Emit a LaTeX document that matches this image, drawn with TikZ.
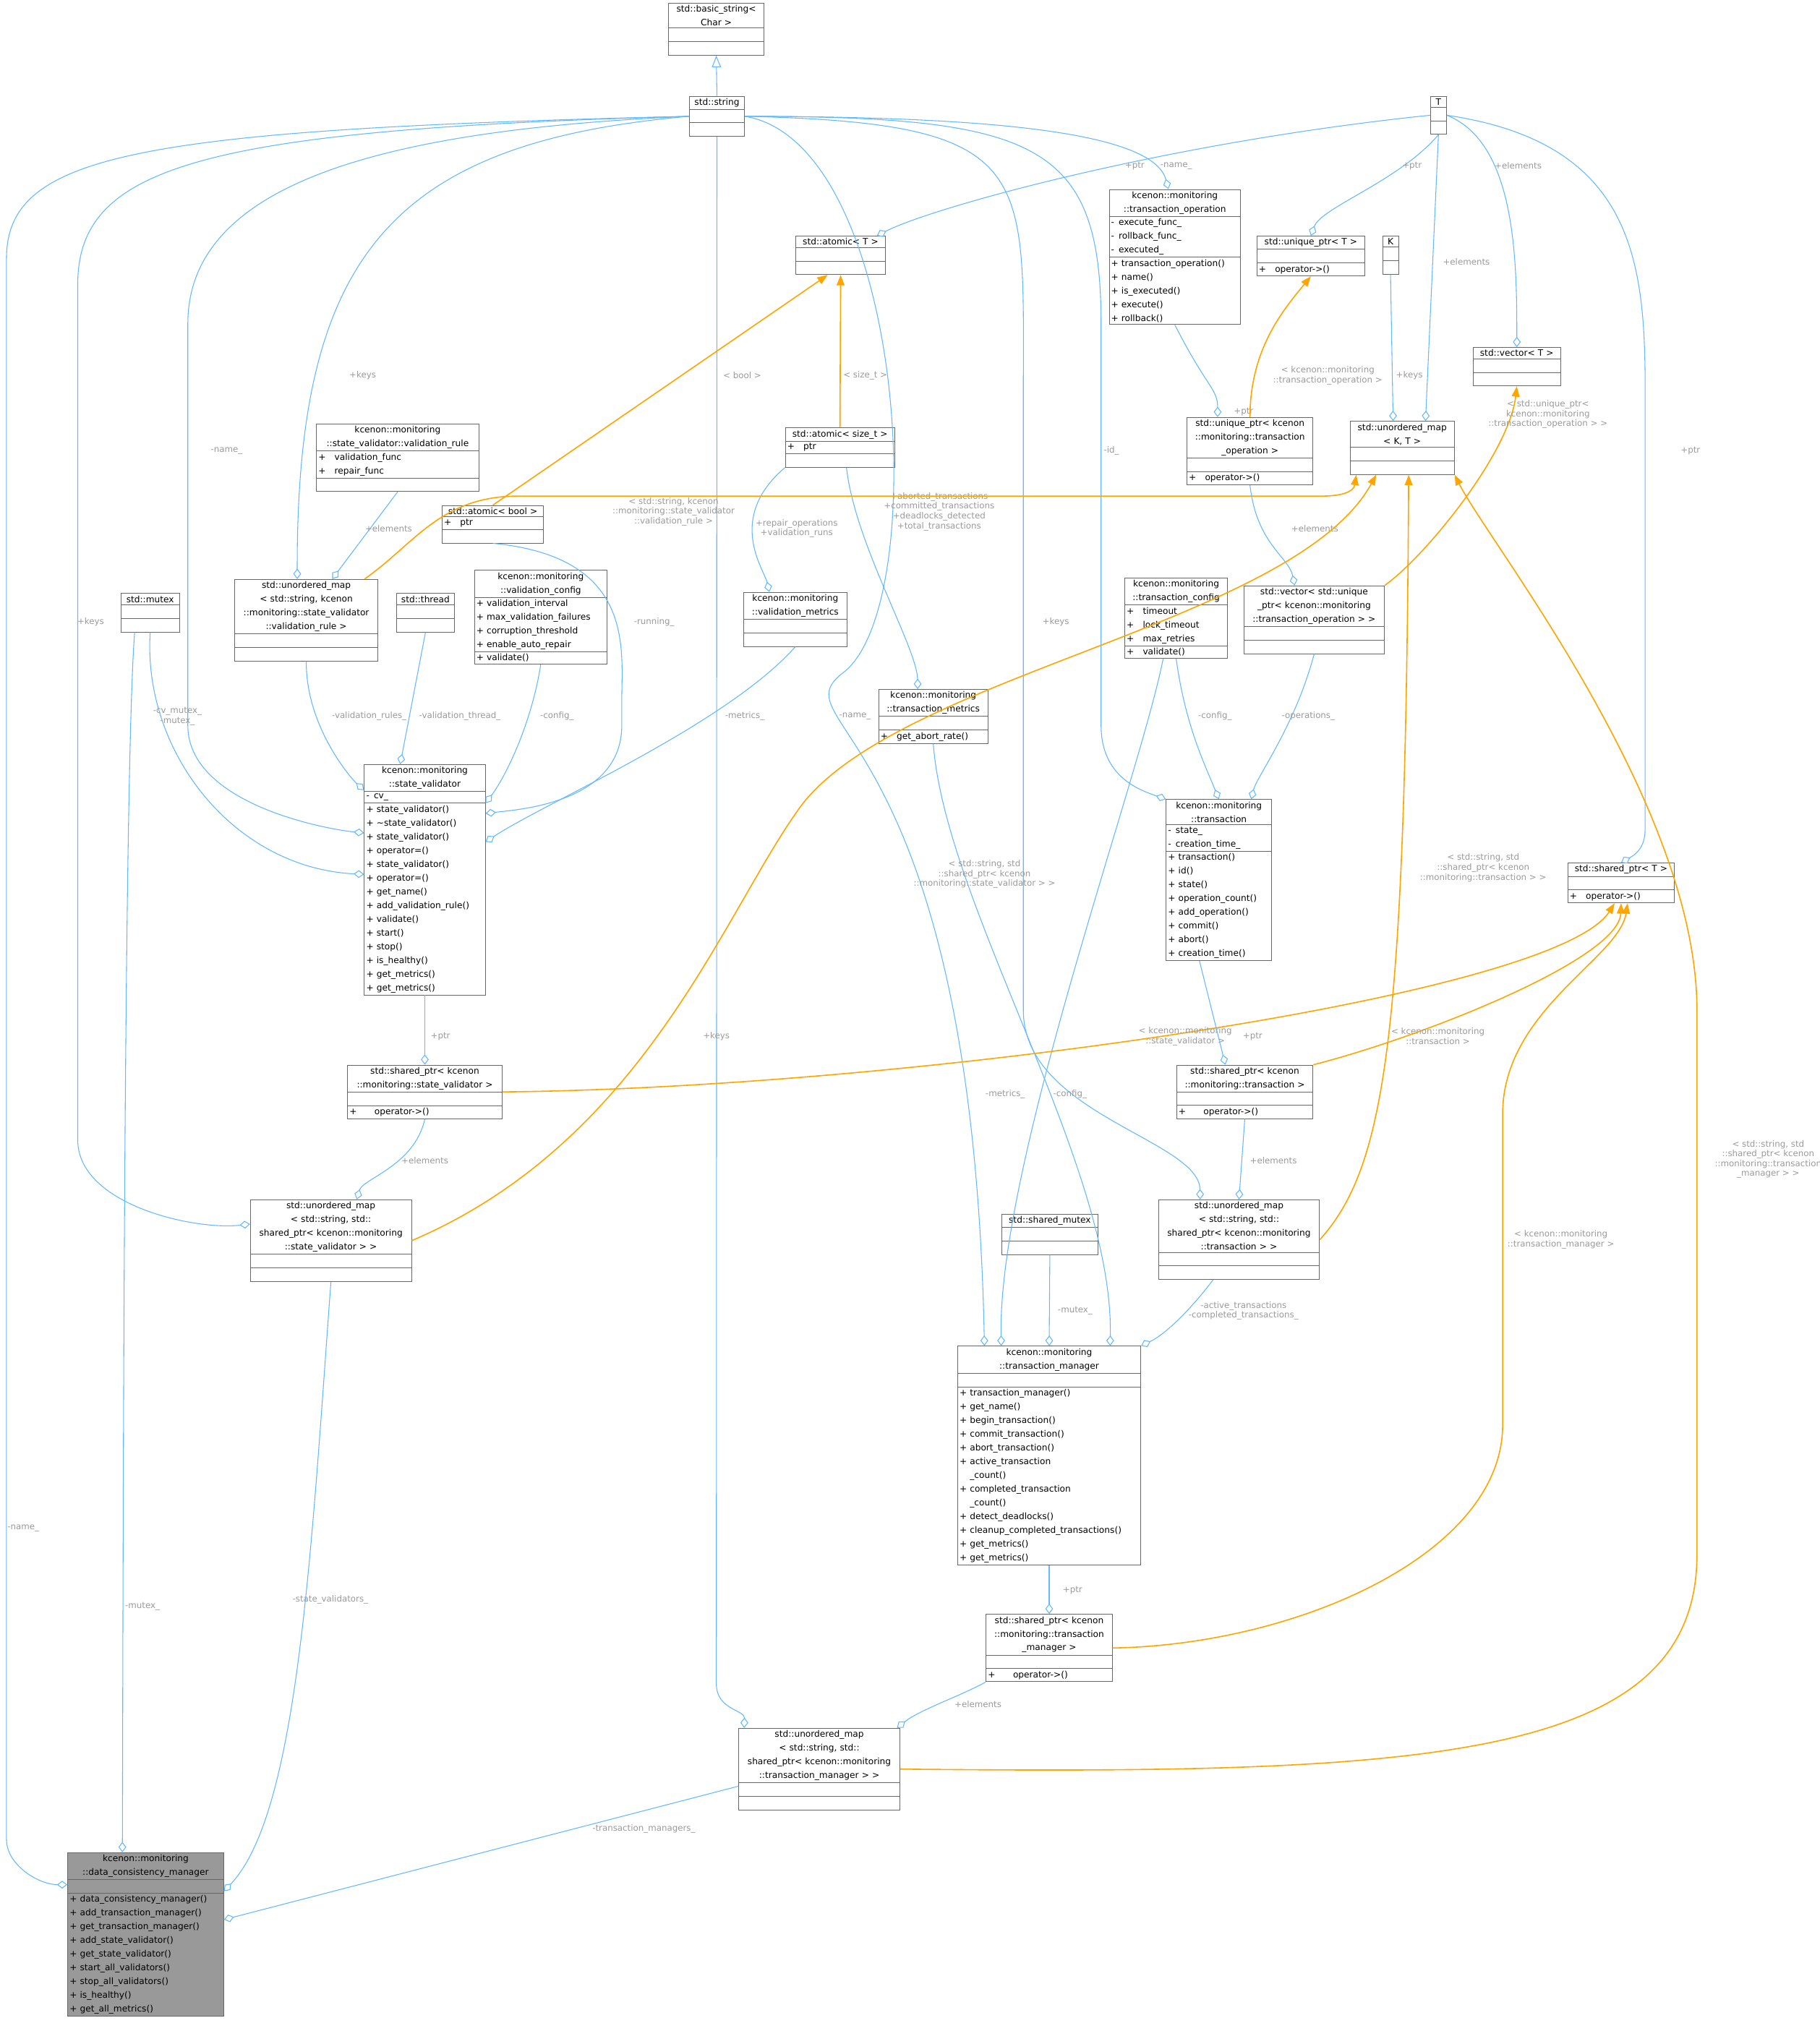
\documentclass[tikz,border=0pt]{standalone}
\usepackage{fontspec}
\setmainfont{DejaVu Sans}
\usetikzlibrary{shapes.multipart,arrows.meta}
\definecolor{edgeblue}{HTML}{63B8FF}
\definecolor{tmplorange}{HTML}{FFA500}
\definecolor{lblgrey}{HTML}{9A9A9A}
\definecolor{boxline}{HTML}{666666}
\definecolor{curfill}{HTML}{999999}
\catcode`\_=12
\tikzset{
  cls/.style={draw=boxline, fill=white, rectangle split, rectangle split parts=3,
    anchor=north west, align=left, inner sep=1.5pt, line width=0.5pt,
    font=\fontsize{6.8}{10.6}\selectfont},
  has/.style={draw=edgeblue, line width=0.6pt, -{Diamond[open,length=8pt,width=6pt]}},
  tmpl/.style={draw=tmplorange, line width=0.9pt, -{Triangle[length=8pt,width=6pt]}},
  isa/.style={draw=edgeblue, line width=0.6pt, -{Triangle[open,length=9pt,width=7pt]}},
  lbl/.style={text=lblgrey, align=center, inner sep=1pt, font=\fontsize{6.6}{7.6}\selectfont}
}
\newcommand\E{\rule[-2pt]{0pt}{7pt}}
\newcommand\umlcls[6][60]{\node[cls,text width=#1pt-3.6pt] (#2) at (#3) {#4\nodepart{two}#5\nodepart{three}#6};}
\begin{document}
\begin{tikzpicture}[x=1pt,y=-1pt]
\useasboundingbox[fill=white] (0,0) rectangle (1405,1568);

% classes, top to bottom
\umlcls[74]{bstr}{516,2}{{\centering std::basic_string<\\Char >\par}}{\E}{\E}
\umlcls[43]{str}{532,74}{{\centering std::string\par}}{\E}{\E}
\umlcls[13]{T}{1104,74}{{\centering T\par}}{\E}{\E}
\umlcls[70]{atomT}{614,182}{{\centering std::atomic< T >\par}}{\E}{\E}
\umlcls[102]{top}{856,146}{{\centering kcenon::monitoring\\::transaction_operation\par}}{-\enspace execute_func_\\-\enspace rollback_func_\\-\enspace executed_}{+ transaction_operation()\\+ name()\\+ is_executed()\\+ execute()\\+ rollback()}
\umlcls[84]{uqT}{970,182}{{\centering std::unique_ptr< T >\par}}{\E}{+\quad operator->()}
\umlcls[13]{K}{1067,182}{{\centering K\par}}{\E}{\E}
\umlcls[68]{vecT}{1137,268}{{\centering std::vector< T >\par}}{\E}{\E}
\umlcls[81]{umKT}{1042,325}{{\centering std::unordered_map\\< K, T >\par}}{\E}{\E}
\umlcls[98]{uptop}{916,322}{{\centering std::unique_ptr< kcenon\\::monitoring::transaction\\_operation >\par}}{\E}{+\quad operator->()}
\umlcls[85]{atomsize}{606,330}{{\centering std::atomic< size_t >\par}}{+\quad ptr}{\E}
\umlcls[126]{vr}{244,327}{{\centering kcenon::monitoring\\::state_validator::validation_rule\par}}{+\quad validation_func\\+\quad repair_func}{\E}
\umlcls[79]{atombool}{341,390}{{\centering std::atomic< bool >\par}}{+\quad ptr}{\E}
\umlcls[46]{mutex}{93,458}{{\centering std::mutex\par}}{\E}{\E}
\umlcls[111]{umvr}{181,447}{{\centering std::unordered_map\\< std::string, kcenon\\::monitoring::state_validator\\::validation_rule >\par}}{\E}{\E}
\umlcls[45]{thread}{306,458}{{\centering std::thread\par}}{\E}{\E}
\umlcls[103]{vconf}{366,440}{{\centering kcenon::monitoring\\::validation_config\par}}{+ validation_interval\\+ max_validation_failures\\+ corruption_threshold\\+ enable_auto_repair}{+ validate()}
\umlcls[80]{vm}{574,457}{{\centering kcenon::monitoring\\::validation_metrics\par}}{\E}{\E}
\umlcls[80]{tconf}{868,446}{{\centering kcenon::monitoring\\::transaction_config\par}}{+\quad timeout\\+\quad lock_timeout\\+\quad max_retries}{+\quad validate()}
\umlcls[109]{vecup}{960,452}{{\centering std::vector< std::unique\\_ptr< kcenon::monitoring\\::transaction_operation > >\par}}{\E}{\E}
\umlcls[85]{tmet}{678,532}{{\centering kcenon::monitoring\\::transaction_metrics\par}}{\E}{+\quad get_abort_rate()}
\umlcls[94]{sv}{281,590}{{\centering kcenon::monitoring\\::state_validator\par}}{-\enspace cv_}{+ state_validator()\\+ \textasciitilde state_validator()\\+ state_validator()\\+ operator=()\\+ state_validator()\\+ operator=()\\+ get_name()\\+ add_validation_rule()\\+ validate()\\+ start()\\+ stop()\\+ is_healthy()\\+ get_metrics()\\+ get_metrics()}
\umlcls[82]{tr}{900,617}{{\centering kcenon::monitoring\\::transaction\par}}{-\enspace state_\\-\enspace creation_time_}{+ transaction()\\+ id()\\+ state()\\+ operation_count()\\+ add_operation()\\+ commit()\\+ abort()\\+ creation_time()}
\umlcls[83]{spT}{1210,666}{{\centering std::shared_ptr< T >\par}}{\E}{+\quad operator->()}
\umlcls[120]{spsv}{268,822}{{\centering std::shared_ptr< kcenon\\::monitoring::state_validator >\par}}{\E}{+\qquad operator->()}
\umlcls[106]{sptr}{908,822}{{\centering std::shared_ptr< kcenon\\::monitoring::transaction >\par}}{\E}{+\qquad operator->()}
\umlcls[125]{umsv}{193,926}{{\centering std::unordered_map\\< std::string, std::\\shared_ptr< kcenon::monitoring\\::state_validator > >\par}}{\E}{\E}
\umlcls[75]{smutex}{773,937}{{\centering std::shared_mutex\par}}{\E}{\E}
\umlcls[125]{umtr}{894,926}{{\centering std::unordered_map\\< std::string, std::\\shared_ptr< kcenon::monitoring\\::transaction > >\par}}{\E}{\E}
\umlcls[142]{tm}{739,1039}{{\centering kcenon::monitoring\\::transaction_manager\par}}{\E}{+ transaction_manager()\\+ get_name()\\+ begin_transaction()\\+ commit_transaction()\\+ abort_transaction()\\+ active_transaction\\\phantom{+ }_count()\\+ completed_transaction\\\phantom{+ }_count()\\+ detect_deadlocks()\\+ cleanup_completed_transactions()\\+ get_metrics()\\+ get_metrics()}
\umlcls[98]{sptm}{761,1246}{{\centering std::shared_ptr< kcenon\\::monitoring::transaction\\_manager >\par}}{\E}{+\qquad operator->()}
\umlcls[125]{umtm}{570,1334}{{\centering std::unordered_map\\< std::string, std::\\shared_ptr< kcenon::monitoring\\::transaction_manager > >\par}}{\E}{\E}
\node[cls,fill=curfill,text width=121pt-3.6pt] (dcm) at (52,1430) {{\centering kcenon::monitoring\\::data_consistency_manager\par}\nodepart{two}\E\nodepart{three}+ data_consistency_manager()\\+ add_transaction_manager()\\+ get_transaction_manager()\\+ add_state_validator()\\+ get_state_validator()\\+ start_all_validators()\\+ stop_all_validators()\\+ is_healthy()\\+ get_all_metrics()};

% std::string members
\draw[isa] (str.north) -- (bstr.south);
\draw[has] (str.west) .. controls (100,100) and (5,120) .. (5,200) -- (5,1420) .. controls (5,1440) and (30,1455) .. ([yshift=-25pt]dcm.north west) node[lbl] at (18,1180) {-name_};
\draw[has] (str.west) .. controls (150,100) and (60,130) .. (60,220) -- (60,880) .. controls (60,930) and (150,950) .. ([yshift=-19pt]umsv.north west) node[lbl] at (70,480) {+keys};
\draw[has] (str.west) .. controls (300,100) and (145,140) .. (145,250) -- (145,560) .. controls (145,620) and (250,640) .. ([yshift=-53pt]sv.north west) node[lbl] at (175,348) {-name_};
\draw[has] (str.west) .. controls (300,110) and (229,200) .. ([xshift=-7pt]umvr.north) node[lbl] at (280,290) {+keys};
\draw[has] (str.east) .. controls (750,90) and (890,100) .. ([xshift=-5pt]top.north) node[lbl] at (908,128) {-name_};
\draw[has] (str.east) .. controls (700,110) and (720,470) .. (650,520) .. controls (600,560) and (750,560) .. ([xshift=-50pt]tm.north) node[lbl] at (660,553) {-name_};
\draw[has] (str.east) .. controls (800,90) and (850,110) .. (850,250) -- (850,560) .. controls (850,600) and (880,610) .. (tr.north west) node[lbl] at (858,348) {-id_};
\draw[has] (str.east) .. controls (800,95) and (790,130) .. (790,300) -- (790,780) .. controls (790,860) and (926,880) .. ([xshift=-30pt]umtr.north) node[lbl] at (815,480) {+keys};
\draw[has] (str.south) -- (553,1300) .. controls (553,1320) and (575,1320) .. ([xshift=-58pt]umtm.north) node[lbl] at (553,800) {+keys};

% template parameters
\draw[has] (T.west) .. controls (900,110) and (720,160) .. ([xshift=28pt]atomT.north) node[lbl] at (876,128) {+ptr};
\draw[has] (T.south) .. controls (1080,140) and (1020,160) .. (uqT.north) node[lbl] at (1090,128) {+ptr};
\draw[has] (T.south) -- ([xshift=18pt]umKT.north) node[lbl] at (1132,202) {+elements};
\draw[has] (T.east) .. controls (1170,110) and (1171,200) .. (vecT.north) node[lbl] at (1172,128) {+elements};
\draw[has] (T.east) .. controls (1260,110) and (1270,200) .. (1270,300) -- (1270,640) .. controls (1270,655) and (1262,660) .. (spT.north) node[lbl] at (1305,348) {+ptr};
\draw[has] (K.south) -- ([xshift=-7pt]umKT.north) node[lbl] at (1088,290) {+keys};

% atomics
\draw[tmpl] (atombool.north) -- ([xshift=-10pt]atomT.south) node[lbl] at (573,290) {< bool >};
\draw[tmpl] (atomsize.north) -- (atomT.south) node[lbl] at (668,290) {< size_t >};
\draw[has] (atombool.south) .. controls (490,430) and (480,500) .. (480,540) -- (480,560) .. controls (480,620) and (400,625) .. ([yshift=-38pt]sv.north east) node[lbl] at (505,480) {-running_};
\draw[has] (atomsize.south west) .. controls (560,400) and (590,440) .. ([xshift=-20pt]vm.north) node[lbl] at (615,408) {+repair_operations\\+validation_runs};
\draw[has] ([xshift=5pt]atomsize.south) .. controls (660,420) and (708,500) .. ([xshift=-12pt]tmet.north) node[lbl] at (725,395) {+aborted_transactions\\+committed_transactions\\+deadlocks_detected\\+total_transactions};

% state validator members
\draw[has] (vr.south) -- ([xshift=20pt]umvr.north) node[lbl] at (300,408) {+elements};
\draw[tmpl] ([xshift=45pt]umvr.north) .. controls (320,420) and (340,383) .. (400,383) -- (1020,383) .. controls (1035,383) and (1045,380) .. ([xshift=5pt]umKT.south west) node[lbl] at (520,395) {< std::string, kcenon\\::monitoring::state_validator\\::validation_rule >};
\draw[has] (umvr.south) .. controls (236,560) and (270,600) .. ([yshift=-20pt]sv.north west) node[lbl] at (285,553) {-validation_rules_};
\draw[has] (mutex.south) .. controls (110,580) and (180,670) .. ([yshift=-85pt]sv.north west) node[lbl] at (137,553) {-cv_mutex_\\-mutex_};
\draw[has] ([xshift=-12pt]mutex.south) .. controls (95,600) and (95,1300) .. ([xshift=-18pt]dcm.north) node[lbl] at (110,1240) {-mutex_};
\draw[has] (thread.south) -- ([xshift=-19pt]sv.north) node[lbl] at (355,553) {-validation_thread_};
\draw[has] (vconf.south) .. controls (410,560) and (390,600) .. ([yshift=-30pt]sv.north east) node[lbl] at (430,553) {-config_};
\draw[has] (vm.south) .. controls (560,560) and (420,620) .. ([yshift=-60pt]sv.north east) node[lbl] at (575,553) {-metrics_};

% transaction members
\draw[has] (top.south) .. controls (932,300) and (940,300) .. ([xshift=-25pt]uptop.north) node[lbl] at (960,318) {+ptr};
\draw[tmpl] (uptop.north) .. controls (965,270) and (990,240) .. (uqT.south) node[lbl] at (1025,290) {< kcenon::monitoring\\::transaction_operation >};
\draw[has] (uptop.south) .. controls (970,420) and (995,430) .. ([xshift=-15pt]vecup.north) node[lbl] at (1015,408) {+elements};
\draw[tmpl] (vecup.north east) .. controls (1100,430) and (1165,350) .. (vecT.south) node[lbl] at (1195,320) {< std::unique_ptr<\\kcenon::monitoring\\::transaction_operation > >};
\draw[has] (vecup.south) .. controls (1000,560) and (970,600) .. ([xshift=25pt]tr.north) node[lbl] at (1010,553) {-operations_};
\draw[has] (tconf.south) .. controls (915,560) and (930,590) .. (tr.north) node[lbl] at (938,553) {-config_};
\draw[has] ([xshift=-10pt]tconf.south) .. controls (880,600) and (770,900) .. ([xshift=-37pt]tm.north) node[lbl] at (826,845) {-config_};
\draw[has] (tmet.south) .. controls (730,700) and (860,900) .. ([xshift=47pt]tm.north) node[lbl] at (776,845) {-metrics_};

% shared pointers and maps
\draw[has] (sv.south) -- (spsv.north) node[lbl] at (340,800) {+ptr};
\draw[tmpl] (spsv.east) .. controls (700,840) and (1200,770) .. ([xshift=-5pt]spT.south) node[lbl] at (915,800) {< kcenon::monitoring\\::state_validator >};
\draw[has] (spsv.south) .. controls (320,900) and (280,910) .. ([xshift=20pt]umsv.north) node[lbl] at (328,896) {+elements};
\draw[tmpl] (umsv.east) .. controls (500,880) and (560,700) .. (620,620) .. controls (700,520) and (1000,480) .. ([xshift=-20pt]umKT.south) node[lbl] at (760,675) {< std::string, std\\::shared_ptr< kcenon\\::monitoring::state_validator > >};
\draw[has] (umsv.south) .. controls (240,1200) and (230,1400) .. ([yshift=-30pt]dcm.north east) node[lbl] at (255,1235) {-state_validators_};
\draw[has] ([xshift=-15pt]tr.south) -- ([xshift=-15pt]sptr.north) node[lbl] at (967,800) {+ptr};
\draw[tmpl] (sptr.north east) .. controls (1100,800) and (1250,740) .. (spT.south) node[lbl] at (1110,800) {< kcenon::monitoring\\::transaction >};
\draw[has] (sptr.south) -- (umtr.north) node[lbl] at (983,896) {+elements};
\draw[tmpl] (umtr.east) .. controls (1070,900) and (1085,800) .. ([xshift=5pt]umKT.south) node[lbl] at (1145,670) {< std::string, std\\::shared_ptr< kcenon\\::monitoring::transaction > >};
\draw[has] ([xshift=-20pt]umtr.south) .. controls (920,1010) and (900,1030) .. (tm.north east) node[lbl] at (960,1012) {-active_transactions\\-completed_transactions_};
\draw[has] (smutex.south) -- (tm.north) node[lbl] at (830,1012) {-mutex_};
\draw[has] (tm.south) -- (sptm.north) node[lbl] at (828,1228) {+ptr};
\draw[tmpl] (sptm.east) .. controls (1000,1270) and (1160,1200) .. (1160,1100) -- (1160,860) .. controls (1160,780) and (1250,740) .. ([xshift=5pt]spT.south) node[lbl] at (1205,957) {< kcenon::monitoring\\::transaction_manager >};
\draw[has] (sptm.south west) .. controls (740,1310) and (710,1320) .. ([xshift=60pt]umtm.north) node[lbl] at (755,1316) {+elements};
\draw[tmpl] (umtm.east) .. controls (1100,1370) and (1310,1360) .. (1310,1200) -- (1310,780) .. controls (1310,620) and (1150,420) .. (umKT.south east) node[lbl] at (1365,895) {< std::string, std\\::shared_ptr< kcenon\\::monitoring::transaction\\_manager > >};
\draw[has] ([yshift=-45pt]umtm.north west) -- ([yshift=-52pt]dcm.north east) node[lbl] at (497,1412) {-transaction_managers_};
\end{tikzpicture}
\end{document}
